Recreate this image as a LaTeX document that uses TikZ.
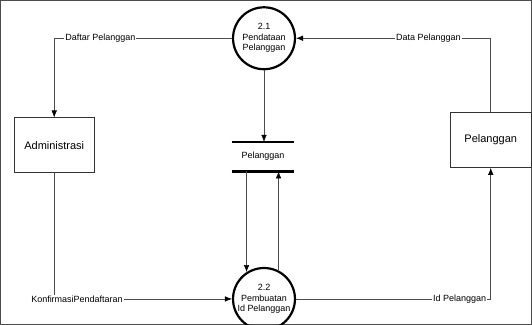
\documentclass[tikz,border=0pt]{standalone}
\usepackage{fontspec}
\setmainfont{Liberation Sans}
\usetikzlibrary{arrows.meta}

\begin{document}
\begin{tikzpicture}[x=1pt,y=-1pt,->,>={Latex[length=7pt,width=5.5pt,color=black]},semithick,
    proses/.style={circle,draw=black,line width=2.2pt,minimum size=62pt,inner sep=0pt,align=center,font=\fontsize{9}{10.5}\selectfont},
    entitas/.style={draw=black!80,thin,minimum width=81pt,minimum height=55pt,font=\fontsize{11}{13}\selectfont},
    aliran/.style={fill=white,inner sep=1pt,font=\fontsize{9}{10.5}\selectfont},
    every path/.style={draw=black!70}]
                \useasboundingbox (0,0) rectangle (532,324);
                \node[proses] (p21) at (264,38) {2.1\\Pendataan\\Pelanggan};
                \node[proses] (p22) at (264,299) {2.2\\Pembuatan\\Id Pelanggan};
                \node[entitas] (admin) at (54,145) {Administrasi};
                \node[entitas] (pelanggan) at (491,140) {Pelanggan};
                \node[minimum width=62pt,minimum height=29pt,inner sep=0pt,font=\fontsize{9}{10.5}\selectfont] (store) at (263,156.5) {Pelanggan};
                \draw[-,line width=2.2pt,black] (store.north west) -- (store.north east);
                \draw[-,line width=2.2pt,black] (store.south west) -- (store.south east);
                \draw (p21.west) -| node[aliran,pos=0.37] {Daftar Pelanggan} (admin.north);
                \draw (pelanggan.north) |- node[aliran,pos=0.66] {Data Pelanggan} (p21.east);
                \draw (p21.south) -- (p21.south |- store.north);
                \draw (p22.123 |- store.south) -- (p22.123);
                \draw (p22.63) -- (p22.63 |- store.south);
                \draw (admin.south) |- node[aliran,pos=0.564] {KonfirmasiPendaftaran} (p22.west);
                \draw (p22.east) -| node[aliran,pos=0.42] {Id Pelanggan} (pelanggan.south);
            \end{tikzpicture}
\end{document}
